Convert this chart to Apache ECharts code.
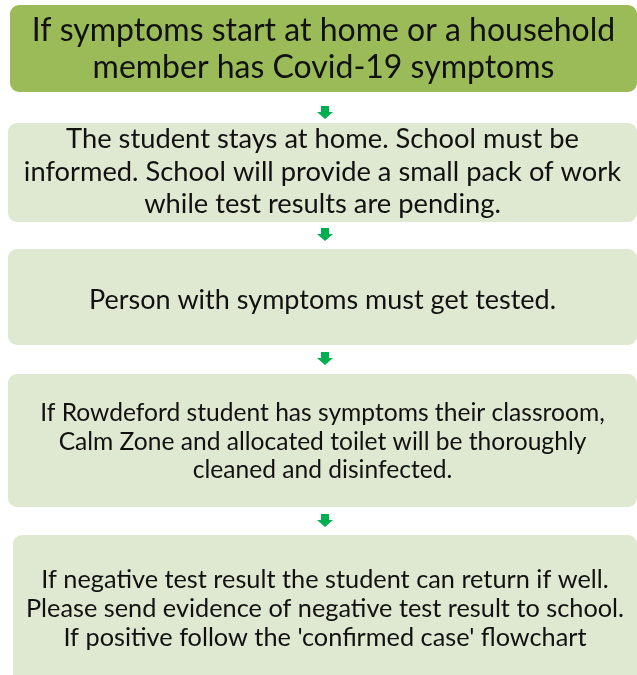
<!DOCTYPE html>
<html>
<head>
<meta charset="utf-8">
<script src="https://cdn.jsdelivr.net/npm/echarts@6/dist/echarts.min.js"></script>
<style>
  html, body { margin: 0; padding: 0; background: #fff; }
  #chart { width: 637px; height: 675px; }
</style>
</head>
<body>
<div id="chart"></div>
<script>
// flowchart steps, top to bottom
var stepTexts = [
    "If symptoms start at home or a household\nmember has Covid-19 symptoms",
    "The student stays at home. School must be\ninformed. School will provide a small pack of work\nwhile test results are pending.",
    "Person with symptoms must get tested.",
    "If Rowdeford student has symptoms their classroom,\nCalm Zone and allocated toilet will be thoroughly\ncleaned and disinfected.",
    "If negative test result the student can return if well.\nPlease send evidence of negative test result to school.\nIf positive follow the 'confirmed case' flowchart"
];

// box layout (left, top, right, bottom) and text size
var boxes = [
    { l: 10, t: 5, r: 637, b: 92, size: 32, lh: 37 },
    { l: 8, t: 123, r: 637, b: 222, size: 27.3, lh: 32.5 },
    { l: 8, t: 249, r: 637, b: 345, size: 27, lh: 32 },
    { l: 8, t: 374, r: 637, b: 507, size: 24.6, lh: 28.5 },
    { l: 13, t: 535, r: 637, b: 700, size: 25.3, lh: 29 }
];
var textCenters = [49, 172, 300, 442, 609];
var arrowTops = [106, 228, 352, 514];

var FONT = "Lato";

var chart = echarts.init(document.getElementById("chart"));

var elements = [];
boxes.forEach(function (b, i) {
    elements.push({
        type: "rect",
        shape: { x: b.l, y: b.t, width: b.r - b.l, height: b.b - b.t, r: 9 },
        style: { fill: i === 0 ? "#9bbb59" : "#dfe8d1" }
    });
    elements.push({
        type: "text",
        x: (b.l + b.r) / 2,
        y: textCenters[i],
        style: {
            text: stepTexts[i],
            fill: "#111",
            font: b.size + "px " + FONT,
            lineHeight: b.lh,
            align: "center",
            verticalAlign: "middle"
        }
    });
});

// small green arrows between the boxes
arrowTops.forEach(function (t) {
    var cx = 325;
    elements.push({
        type: "polygon",
        shape: {
            points: [
                [cx - 4, t], [cx + 4, t], [cx + 4, t + 6], [cx + 8, t + 6],
                [cx, t + 13], [cx - 8, t + 6], [cx - 4, t + 6]
            ]
        },
        style: { fill: "#00b050" }
    });
});

chart.setOption({
    backgroundColor: "#fff",
    animation: false,
    graphic: { elements: elements }
});
</script>
</body>
</html>
